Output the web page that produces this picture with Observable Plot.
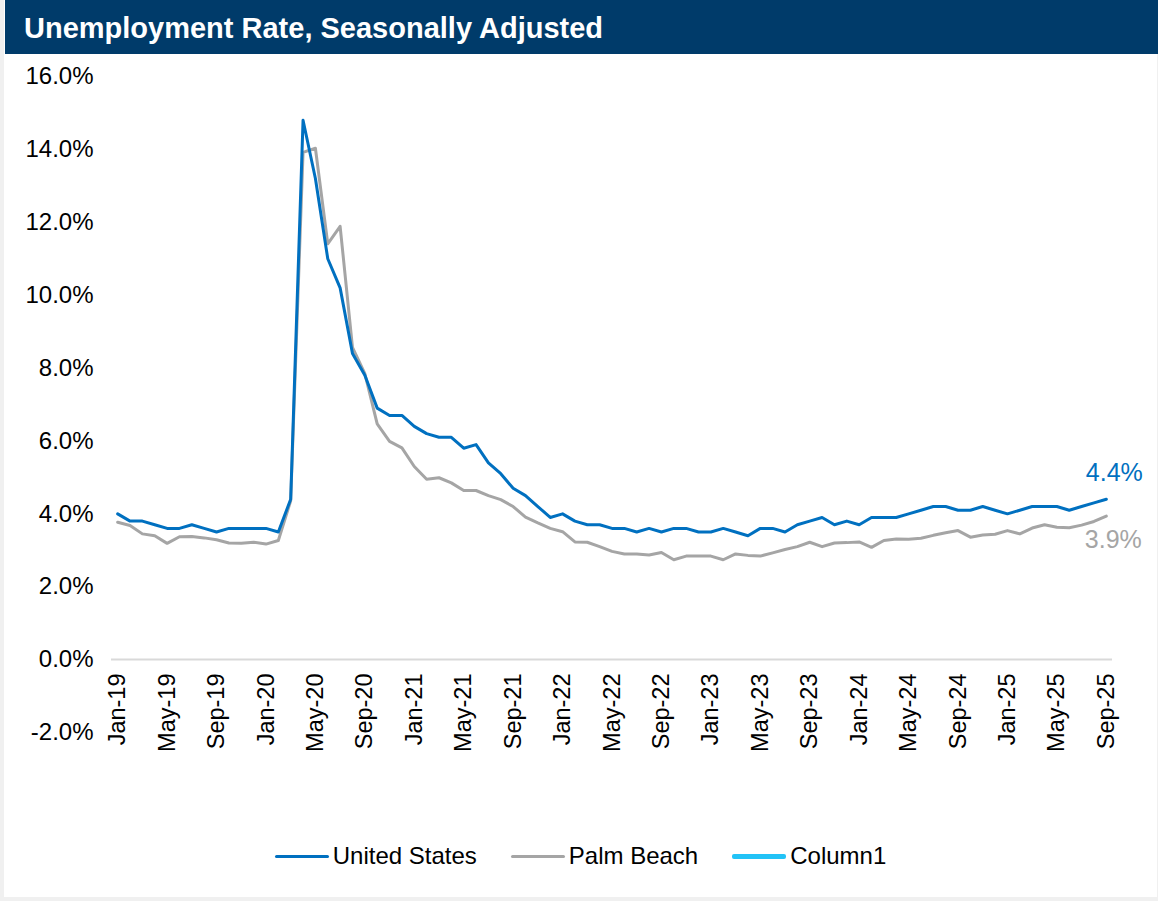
<!DOCTYPE html>
<html>
<head>
<meta charset="utf-8">
<script src="https://cdn.jsdelivr.net/npm/d3@7"></script>
<script src="https://cdn.jsdelivr.net/npm/@observablehq/plot@0.6"></script>
<style>
  html, body { margin: 0; padding: 0; background: #f0f0f0; width: 1158px; height: 901px; overflow: hidden; }
  #card { position: absolute; left: 4px; top: 0; width: 1153px; height: 897px; background: #fff; font-family: "Liberation Sans", Arial, sans-serif; }
  #title { position: absolute; left: 1px; top: 0; width: 1153px; height: 54px; background: #003B6A; color: #fff; font-weight: bold; font-size: 29px; line-height: 56px; padding-left: 19px; box-sizing: border-box; }
  #chart { position: absolute; left: 0; top: 54px; }
  #legend { position: absolute; left: 0; top: 842px; width: 1153px; display: flex; justify-content: center; align-items: center; font-size: 24px; color: #000; }
  .item { display: flex; align-items: center; margin: 0 17px; }
  .swatch { width: 54px; margin-right: 4px; border-radius: 2px; }
</style>
</head>
<body>
<div id="card">
  <div id="title">Unemployment Rate, Seasonally Adjusted</div>
  <div id="chart"></div>
  <div id="legend"></div>
</div>
<script>
// Monthly categories Jan-19 .. Sep-25
const months = d3.utcMonth.range(new Date(Date.UTC(2019, 0, 1)), new Date(Date.UTC(2025, 9, 1)));
const fmtMonth = d3.utcFormat("%b-%y");

// Series values (%)
const unitedStates = [
  4.0,3.8,3.8,3.7,3.6,3.6,3.7,3.6,3.5,3.6,3.6,3.6,
  3.6,3.5,4.4,14.8,13.2,11.0,10.2,8.4,7.8,6.9,6.7,6.7,
  6.4,6.2,6.1,6.1,5.8,5.9,5.4,5.1,4.7,4.5,4.2,3.9,
  4.0,3.8,3.7,3.7,3.6,3.6,3.5,3.6,3.5,3.6,3.6,3.5,
  3.5,3.6,3.5,3.4,3.6,3.6,3.5,3.7,3.8,3.9,3.7,3.8,
  3.7,3.9,3.9,3.9,4.0,4.1,4.2,4.2,4.1,4.1,4.2,4.1,
  4.0,4.1,4.2,4.2,4.2,4.1,4.2,4.3,4.4
];
const palmBeach = [
  3.77,3.68,3.45,3.40,3.19,3.37,3.38,3.34,3.29,3.20,3.19,3.22,
  3.17,3.27,4.36,13.92,14.03,11.41,11.89,8.57,7.85,6.47,5.99,5.81,
  5.30,4.95,4.99,4.85,4.64,4.64,4.50,4.39,4.20,3.91,3.75,3.60,
  3.51,3.23,3.22,3.10,2.97,2.90,2.90,2.87,2.94,2.74,2.84,2.84,
  2.84,2.74,2.90,2.86,2.84,2.93,3.02,3.10,3.22,3.10,3.20,3.21,
  3.23,3.08,3.27,3.31,3.30,3.33,3.41,3.48,3.54,3.36,3.42,3.44,
  3.54,3.45,3.61,3.70,3.63,3.62,3.69,3.79,3.94
];

const seriesNames = ["United States", "Palm Beach", "Column1"];
const seriesColors = ["#0070C0", "#A5A5A5", "#22C3F7"];
const seriesWidths = [3, 3, 5];

// Axis ticks
const yTicks = [-2, 0, 2, 4, 6, 8, 10, 12, 14, 16];
const xTickLabels = ["Jan-19","May-19","Sep-19","Jan-20","May-20","Sep-20","Jan-21","May-21","Sep-21",
  "Jan-22","May-22","Sep-22","Jan-23","May-23","Sep-23","Jan-24","May-24","Sep-24","Jan-25","May-25","Sep-25"];

const usData = months.map((d, i) => ({i, label: fmtMonth(d), value: unitedStates[i]}));
const pbData = months.map((d, i) => ({i, label: fmtMonth(d), value: palmBeach[i]}));
const xTickIdx = xTickLabels.map(l => usData.find(d => d.label === l).i);
const lastUS = usData.slice(-1);
const lastPB = pbData.slice(-1);

const font = "'Liberation Sans', Arial, sans-serif";

const chart = Plot.plot({
  width: 1153,
  height: 760,
  marginTop: 22,
  marginBottom: 82,
  marginLeft: 107,
  marginRight: 45,
  style: {fontFamily: font, fontSize: "24px", color: "#000", background: "transparent", overflow: "visible"},
  x: {domain: [-0.5, months.length - 0.5], axis: null},
  y: {domain: [-2, 16], axis: null},
  marks: [
    Plot.axisY({ticks: yTicks, tickFormat: d => d.toFixed(1) + "%", tickSize: 0, tickPadding: 18, fontSize: 24, fill: "#000", label: null}),
    Plot.axisX({ticks: xTickIdx, tickFormat: i => usData[i].label, tickSize: 0, tickPadding: 0, rotate: -90, textAnchor: "end", lineAnchor: "middle", dy: -59, dx: 0, fontSize: 23.5, fill: "#000", label: null}),
    Plot.ruleY([0], {stroke: "#d9d9d9", strokeWidth: 2}),
    Plot.lineY(pbData, {x: "i", y: "value", stroke: seriesColors[1], strokeWidth: 3, strokeLinejoin: "round"}),
    Plot.lineY(usData, {x: "i", y: "value", stroke: seriesColors[0], strokeWidth: 3, strokeLinejoin: "round"}),
    Plot.text(lastUS, {x: "i", y: "value", text: d => d.value.toFixed(1) + "%", fill: seriesColors[0], fontSize: 25, dx: 8, dy: -26}),
    Plot.text(lastPB, {x: "i", y: "value", text: d => d.value.toFixed(1) + "%", fill: seriesColors[1], fontSize: 25, dx: 7, dy: 24})
  ]
});
document.getElementById("chart").appendChild(chart);

const legend = document.getElementById("legend");
seriesNames.forEach((name, k) => {
  const item = document.createElement("div");
  item.className = "item";
  const sw = document.createElement("div");
  sw.className = "swatch";
  sw.style.background = seriesColors[k];
  sw.style.height = seriesWidths[k] + "px";
  const t = document.createElement("span");
  t.textContent = name;
  item.appendChild(sw);
  item.appendChild(t);
  legend.appendChild(item);
});
</script>
</body>
</html>
